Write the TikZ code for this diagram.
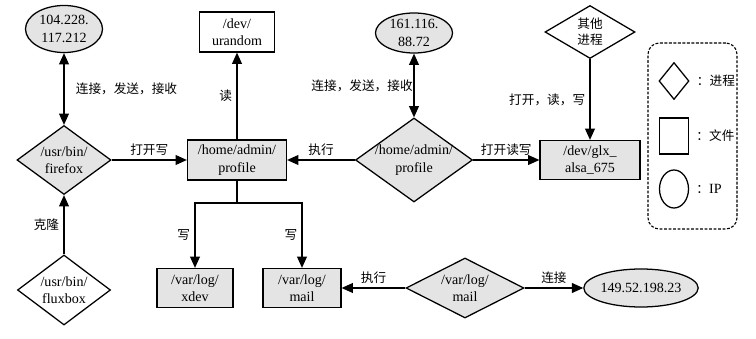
\documentclass[tikz,border=0pt]{standalone}
\usepackage{fontspec}
\setmainfont{Liberation Serif}
\newfontfamily\cjk{Noto Sans CJK SC}
\usepackage{xcolor}
\usetikzlibrary{positioning,arrows.meta,shapes.geometric}
\definecolor{boxgray}{RGB}{228,228,228}

\begin{document}
\begin{tikzpicture}[
    line/.style={line width=0.9pt},
    conn/.style={line,-{Triangle[length=8pt,width=7pt]}},
    both/.style={line,{Triangle[length=8pt,width=7pt]}-{Triangle[length=8pt,width=7pt]}},
    file/.style={draw,line width=0.9pt,fill=boxgray,align=center,inner sep=1pt,
        font=\fontsize{10}{12.5}\selectfont},
    proc/.style={diamond,draw,line width=0.9pt,fill=boxgray,inner sep=0pt},
    ip/.style={ellipse,draw,line width=0.9pt,fill=boxgray,inner sep=0pt,align=center,
        font=\fontsize{10}{12.5}\selectfont},
    txt/.style={align=center,inner sep=0pt,font=\fontsize{10}{12.5}\selectfont},
    verb/.style={align=center,inner sep=3pt,font=\cjk\fontsize{9}{11.5}\selectfont}
]
\useasboundingbox (0,0) rectangle (18.9,8.45);

\node[ip,minimum width=1.925cm,minimum height=1.175cm] (ipA) at (1.6,7.725) {104.228.\\117.212};
\node[proc,minimum width=2.35cm,minimum height=1.725cm,
    label={[txt]center:/usr/bin/\\firefox}] (firefox) at (1.6,4.45) {};
\node[proc,fill=white,minimum width=2.325cm,minimum height=1.75cm,
    label={[txt]center:/usr/bin/\\fluxbox}] (fluxbox) at (1.6,1.2) {};

\node[file,minimum width=2.475cm,minimum height=1cm] (profile) at (5.925,4.45) {/home/admin/\\profile};
\node[file,fill=white,minimum width=1.875cm,minimum height=1cm] (urandom) at (5.925,7.65) {/dev/\\urandom};
\node[file,minimum width=1.9cm,minimum height=0.975cm] (xdev) at (4.875,1.25) {/var/log/\\xdev};
\node[file,minimum width=1.95cm,minimum height=0.975cm] (mailF) at (7.55,1.25) {/var/log/\\mail};

\node[ip,minimum width=1.925cm,minimum height=1cm] (ipB) at (10.35,7.625) {161.116.\\88.72};
\node[proc,minimum width=2.925cm,minimum height=2.1cm,
    label={[txt]center:/home/admin/\\profile}] (profileP) at (10.35,4.45) {};
\node[proc,minimum width=2.95cm,minimum height=1.5cm,
    label={[txt]center:/var/log/\\mail}] (mailP) at (11.625,1.25) {};
\node[ip,minimum width=2.8cm,minimum height=0.95cm] (ipC) at (16.025,1.25) {149.52.198.23};

\node[file,minimum width=2.5cm,minimum height=0.975cm] (glx) at (14.75,4.45) {/dev/glx\_\\alsa\_675};
\node[proc,fill=white,minimum width=2.25cm,minimum height=1.325cm,
    label={[verb,inner sep=0pt]center:其他\\进程}] (other) at (14.75,7.65) {};

\coordinate (split) at (5.925,3.375);

\draw[both] (ipA) -- node[verb,right,xshift=5pt] {连接，发送，接收} (firefox);
\draw[conn] (fluxbox) -- node[verb,left] {克隆} (firefox);
\draw[conn] (firefox) -- node[verb,above] {打开写} (profile);
\draw[conn] (profile) -- node[verb,left] {读} (urandom);
\draw[line] (profile) -- (split);
\draw[conn] (split) -| node[verb,left,pos=0.75] {写} (xdev);
\draw[conn] (split) -| node[verb,left,pos=0.75] {写} (mailF);
\draw[both] (ipB) -- node[verb,left,inner sep=0.5pt] {连接，发送，接收} (profileP);
\draw[conn] (profileP) -- node[verb,above] {执行} (profile);
\draw[conn] (profileP) -- node[verb,above] {打开读写} (glx);
\draw[conn] (other) -- node[verb,left] {打开，读，写} (glx);
\draw[conn] (mailP) -- node[verb,above] {执行} (mailF);
\draw[conn] (mailP) -- node[verb,above] {连接} (ipC);

% legend
\node[draw,line width=0.8pt,dash pattern=on 2pt off 1.2pt,rounded corners=8pt,
    minimum width=2.225cm,minimum height=4.65cm] (legend) at (17.3125,5.05) {};
\node[diamond,draw,line width=0.9pt,inner sep=0pt,minimum width=0.75cm,minimum height=0.925cm] (keyProc) at (16.85,6.425) {};
\node[rectangle,draw,line width=0.9pt,minimum width=0.725cm,minimum height=0.9cm] (keyFile) at (16.85,5.05) {};
\node[ellipse,draw,line width=0.9pt,inner sep=0pt,minimum width=0.725cm,minimum height=0.95cm] (keyIp) at (16.85,3.725) {};
\node[verb,right=2pt of keyProc] (keyProcTxt) {：进程};
\node[verb,right=2pt of keyFile] (keyFileTxt) {：文件};
\node[verb,right=2pt of keyIp] (keyIpTxt) {：\rmfamily\fontsize{10}{12}\selectfont IP};
\end{tikzpicture}
\end{document}
